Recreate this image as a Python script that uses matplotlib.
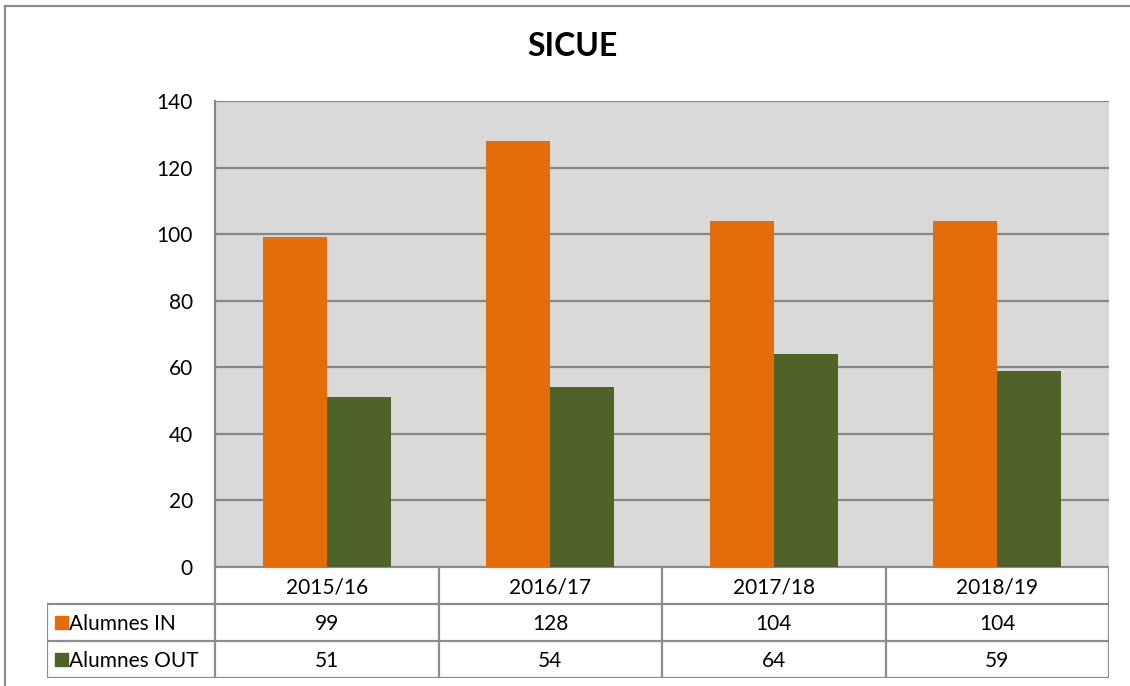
import numpy as np
import matplotlib.pyplot as plt
from matplotlib.patches import Rectangle
from matplotlib.lines import Line2D

plt.rcParams['font.family'] = ['Lato', 'DejaVu Sans']

years = ["2015/16", "2016/17", "2017/18", "2018/19"]
alumnes_in = [99, 128, 104, 104]
alumnes_out = [51, 54, 64, 59]
series_names = ["Alumnes IN", "Alumnes OUT"]
series_colors = ["#E46C0A", "#4F6228"]
yticks = [0, 20, 40, 60, 80, 100, 120, 140]

W, H = 1130, 686
fig = plt.figure(figsize=(W / 100, H / 100), dpi=100)

# pixel layout of the Excel chart
px_left, px_right = 215, 1109
px_top, px_bottom = 101, 567
tbl_left, tbl_bottom = 47, 678
fs = 15

ax = fig.add_axes([px_left / W, 1 - px_bottom / H,
                   (px_right - px_left) / W, (px_bottom - px_top) / H])
ax.set_facecolor("#D9D9D9")
x = np.arange(len(years))
bw = 0.286
ax.bar(x - bw / 2, alumnes_in, bw, color=series_colors[0], zorder=3)
ax.bar(x + bw / 2, alumnes_out, bw, color=series_colors[1], zorder=3)
ax.set_xlim(-0.5, len(years) - 0.5)
ax.set_ylim(0, 140)
ax.set_yticks(yticks)
ax.yaxis.grid(True, color="#868686", linewidth=1.6, zorder=0)
ax.set_axisbelow(True)
ax.tick_params(axis="y", length=0, pad=16, labelsize=fs)
ax.tick_params(axis="x", length=0, labelbottom=False)
for s in ["top", "right", "bottom"]:
    ax.spines[s].set_visible(False)
ax.spines["left"].set_color("#868686")
ax.spines["left"].set_linewidth(1.6)

fig.text(572 / W, 1 - 47 / H, "SICUE", fontsize=23, fontweight="bold",
         ha="center", va="center")

# data table
unit = (px_right - px_left) / len(years)
lab_w = (px_left - tbl_left) / unit
tx = fig.add_axes([tbl_left / W, 1 - tbl_bottom / H,
                   (px_right - tbl_left) / W, (tbl_bottom - px_bottom) / H])
tx.set_xlim(-0.5 - lab_w, len(years) - 0.5)
tx.set_ylim(3, 0)
tx.axis("off")
lc = "#8C8C8C"
lw = 1.6
x0, x1 = -0.5, len(years) - 0.5
# horizontal lines
tx.plot([x0, x1], [0, 0], color=lc, lw=lw)
for yy in [1, 2, 3]:
    tx.plot([x0 - lab_w, x1], [yy, yy], color=lc, lw=lw)
# vertical lines
for xx in np.arange(len(years) + 1) - 0.5:
    tx.plot([xx, xx], [0, 3], color=lc, lw=lw)
tx.plot([x0 - lab_w, x0 - lab_w], [1, 3], color=lc, lw=lw)

for i, yr in enumerate(years):
    tx.text(i, 0.55, yr, ha="center", va="center", fontsize=fs)
for r, (vals, name, col) in enumerate(zip([alumnes_in, alumnes_out],
                                          series_names, series_colors)):
    for i, v in enumerate(vals):
        tx.text(i, 1.55 + r, str(v), ha="center", va="center", fontsize=fs)
    tx.add_patch(Rectangle((x0 - lab_w + 0.035, 1.32 + r), 0.06, 0.36,
                           color=col, clip_on=False))
    tx.text(x0 - lab_w + 0.1, 1.55 + r, name, ha="left", va="center",
            fontsize=fs)

# outer chart border (left and top visible)
fig.add_artist(Line2D([5 / W, 5 / W], [0, 1 - 6 / H], color="#8C8C8C",
                      lw=1.6, transform=fig.transFigure))
fig.add_artist(Line2D([5 / W, 1], [1 - 6 / H, 1 - 6 / H], color="#8C8C8C",
                      lw=1.6, transform=fig.transFigure))

fig.savefig("out.png", dpi=100)
